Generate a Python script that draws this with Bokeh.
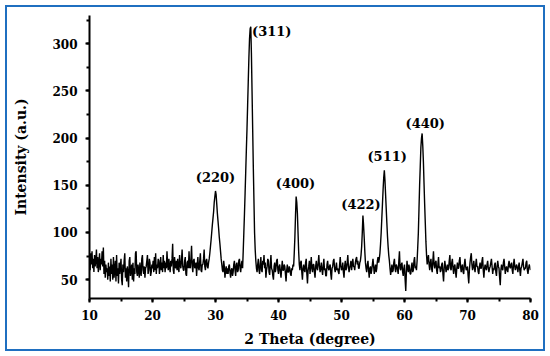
from bokeh.plotting import figure
from bokeh.models import SingleIntervalTicker, Range1d, ColumnDataSource, InlineStyleSheet
from bokeh.core.properties import value
from bokeh.embed import file_html
from bokeh.resources import INLINE

# XRD intensity; one row per degree (10 readings, 0.1 degree apart)
row_start_deg = list(range(10, 80))
intensity_rows = [
    [74, 60, 78, 66, 80, 62, 72, 58, 76, 64],   # 10
    [70, 82, 62, 74, 58, 68, 78, 60, 72, 66],   # 11
    [80, 64, 84, 56, 70, 52, 66, 58, 62, 50],   # 12
    [68, 54, 64, 48, 72, 56, 66, 50, 74, 52],   # 13
    [60, 70, 48, 76, 54, 62, 46, 68, 56, 64],   # 14
    [72, 50, 44, 66, 58, 70, 78, 52, 62, 48],   # 15
    [64, 56, 42, 70, 74, 54, 60, 66, 50, 68],   # 16
    [48, 62, 56, 78, 80, 58, 54, 66, 60, 52],   # 17
    [68, 58, 54, 72, 76, 60, 56, 64, 52, 62],   # 18
    [64, 70, 76, 56, 60, 72, 68, 54, 58, 66],   # 19
    [62, 70, 58, 74, 60, 78, 56, 66, 62, 72],   # 20
    [70, 56, 64, 74, 60, 68, 58, 76, 62, 70],   # 21
    [58, 68, 62, 80, 66, 60, 72, 64, 58, 70],   # 22
    [64, 72, 88, 60, 56, 74, 66, 62, 70, 60],   # 23
    [72, 62, 58, 76, 66, 62, 70, 82, 64, 60],   # 24
    [60, 70, 74, 56, 54, 68, 70, 62, 80, 64],   # 25
    [62, 72, 86, 64, 58, 70, 72, 62, 64, 68],   # 26
    [54, 66, 74, 62, 60, 70, 78, 60, 58, 66],   # 27
    [66, 72, 82, 64, 60, 70, 72, 64, 62, 68],   # 28
    [72, 78, 85, 92, 100, 108, 115, 122, 132, 138],   # 29
    [144, 140, 130, 120, 112, 104, 95, 88, 80, 72],   # 30
    [66, 60, 58, 70, 64, 52, 60, 64, 56, 62],   # 31
    [56, 64, 66, 58, 52, 60, 62, 54, 58, 66],   # 32
    [70, 60, 54, 66, 68, 58, 60, 70, 72, 62],   # 33
    [58, 66, 70, 62, 80, 100, 120, 142, 165, 188],    # 34
    [210, 235, 260, 285, 305, 316, 318, 290, 250, 210],  # 35
    [170, 135, 100, 82, 70, 62, 58, 66, 72, 60],  # 36
    [56, 66, 74, 60, 58, 70, 66, 76, 62, 68],   # 37
    [52, 60, 64, 72, 70, 58, 55, 66, 76, 62],   # 38
    [60, 54, 50, 64, 68, 58, 62, 70, 72, 60],   # 39
    [56, 64, 66, 58, 52, 62, 70, 60, 60, 66],   # 40
    [64, 56, 48, 60, 66, 58, 58, 64, 62, 56],   # 41
    [54, 62, 60, 66, 64, 78, 95, 118, 138, 132],  # 42
    [120, 100, 80, 66, 60, 68, 70, 58, 50, 62],   # 43
    [66, 60, 58, 68, 72, 56, 46, 60, 64, 70],   # 44
    [56, 64, 74, 62, 58, 66, 66, 58, 52, 64],   # 45
    [70, 62, 60, 68, 76, 64, 58, 62, 68, 60],   # 46
    [55, 64, 72, 60, 62, 54, 54, 66, 70, 62],   # 47
    [60, 64, 66, 56, 50, 62, 64, 70, 72, 62],   # 48
    [58, 62, 68, 60, 62, 58, 56, 66, 74, 64],   # 49
    [60, 62, 68, 58, 52, 64, 70, 60, 62, 68],   # 50
    [76, 64, 58, 62, 66, 70, 60, 66, 72, 64],   # 51
    [64, 60, 68, 72, 74, 66, 70, 62, 62, 68],   # 52
    [70, 76, 85, 100, 118, 108, 95, 80, 68, 62],  # 53
    [58, 66, 70, 60, 52, 62, 64, 56, 60, 66],   # 54
    [72, 64, 56, 62, 66, 58, 62, 70, 74, 68],   # 55
    [72, 78, 88, 100, 115, 130, 145, 158, 166, 155],  # 56
    [140, 125, 110, 96, 85, 76, 70, 62, 55, 60],      # 57
    [66, 58, 60, 68, 72, 62, 58, 66, 64, 60],   # 58
    [56, 70, 80, 62, 60, 66, 68, 58, 54, 62],   # 59
    [66, 50, 38, 58, 70, 62, 58, 66, 62, 56],   # 60
    [56, 64, 68, 58, 60, 70, 74, 62, 64, 60],   # 61
    [70, 84, 100, 125, 150, 170, 190, 200, 205, 192],  # 62
    [175, 152, 130, 110, 90, 76, 66, 72, 76, 66],      # 63
    [60, 68, 72, 62, 58, 70, 80, 66, 62, 68],   # 64
    [70, 60, 56, 66, 74, 62, 64, 58, 60, 66],   # 65
    [68, 56, 48, 62, 70, 64, 58, 62, 66, 60],   # 66
    [62, 70, 76, 62, 60, 68, 72, 62, 56, 64],   # 67
    [66, 58, 52, 62, 68, 62, 62, 70, 74, 64],   # 68
    [58, 64, 66, 58, 56, 66, 72, 64, 60, 62],   # 69
    [64, 54, 46, 60, 68, 74, 78, 66, 60, 64],   # 70
    [70, 62, 58, 66, 72, 64, 64, 58, 56, 64],   # 71
    [68, 62, 62, 70, 74, 60, 52, 62, 66, 62],   # 72
    [60, 66, 70, 62, 58, 62, 64, 68, 72, 64],   # 73
    [56, 62, 60, 66, 68, 58, 54, 64, 70, 64],   # 74
    [62, 52, 44, 60, 66, 62, 60, 68, 72, 64],   # 75
    [56, 62, 64, 60, 58, 66, 70, 64, 62, 66],   # 76
    [68, 60, 56, 66, 72, 64, 60, 64, 66, 62],   # 77
    [58, 64, 68, 60, 54, 62, 64, 68, 72, 64],   # 78
    [60, 62, 62, 68, 70, 60, 56, 62, 66, 64],   # 79
]
last_point = (80.0, 60)
reading_step = 0.1

two_theta, intensity = [], []
for d, row in zip(row_start_deg, intensity_rows):
    for j, v in enumerate(row):
        two_theta.append(round(d + j * reading_step, 2))
        intensity.append(v)
two_theta.append(last_point[0])
intensity.append(last_point[1])

peak_labels = ["(220)", "(311)", "(400)", "(422)", "(511)", "(440)"]
peak_label_x = [30.0, 35.8, 42.7, 53.1, 57.25, 63.3]
peak_label_y = [158, 313, 152, 130, 181, 216]
peak_label_align = ["center", "left", "center", "center", "center", "center"]

x_ticks_step = 10
y_ticks_step = 50

FONT = "DejaVu Serif"
W, H = 550, 356

p = figure(width=W, height=H, output_backend="svg", toolbar_location=None,
           x_range=Range1d(10, 80), y_range=Range1d(30, 330),
           min_border_left=89, min_border_right=20, min_border_top=15, min_border_bottom=58)
# outer blue frame drawn over the picture
frame_css = (
    ":host { position: relative; }\n"
    ":host::after { content: ''; position: absolute; left: 5px; top: 5px; right: 5px; bottom: 5px;"
    " border: 2px solid #1f6fc0; pointer-events: none; z-index: 1000; }"
)
p.stylesheets = [InlineStyleSheet(css=frame_css)]
p.outline_line_color = None
p.xgrid.visible = False
p.ygrid.visible = False
p.background_fill_color = "white"
p.border_fill_color = "white"

p.line(two_theta, intensity, line_color="black", line_width=1.4)

src = ColumnDataSource(dict(x=peak_label_x, y=peak_label_y, t=peak_labels, a=peak_label_align))
p.text(x="x", y="y", text="t", source=src, text_align="a", text_baseline="middle",
       text_font=value(FONT), text_font_style="bold", text_font_size="13px", text_color="black")

p.xaxis.ticker = SingleIntervalTicker(interval=x_ticks_step, num_minor_ticks=2)
p.yaxis.ticker = SingleIntervalTicker(interval=y_ticks_step, num_minor_ticks=2)
p.xaxis.axis_label = "2 Theta (degree)"
p.yaxis.axis_label = "Intensity (a.u.)"
for ax in (p.xaxis, p.yaxis):
    ax.axis_line_width = 2
    ax.major_tick_line_width = 2
    ax.minor_tick_line_width = 2
    ax.major_tick_in = 0
    ax.major_tick_out = 4
    ax.minor_tick_in = 0
    ax.minor_tick_out = 3
    ax.major_label_text_font = FONT
    ax.major_label_text_font_style = "bold"
    ax.major_label_text_font_size = "12px"
    ax.major_label_text_color = "black"
    ax.axis_label_text_font = FONT
    ax.axis_label_text_font_style = "bold"
    ax.axis_label_text_font_size = "14px"
    ax.axis_label_text_color = "black"
p.xaxis.major_label_standoff = 7
p.xaxis.axis_label_standoff = 8
p.yaxis.major_label_standoff = 8
p.yaxis.axis_label_standoff = 20

open("out.html", "w").write(file_html(p, INLINE))
